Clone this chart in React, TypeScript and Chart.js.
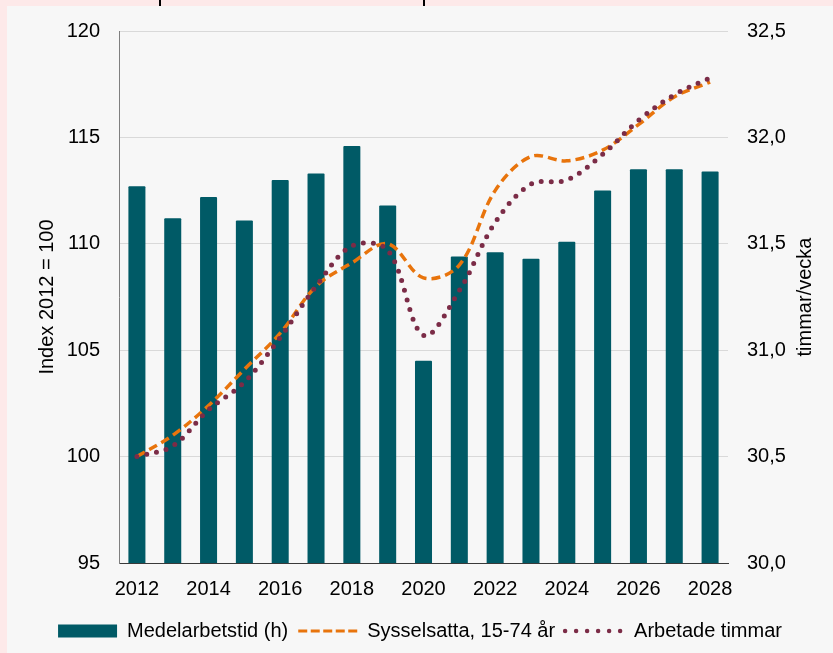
import React, { useEffect, useRef } from "react";
import { Chart, registerables } from "chart.js";

Chart.register(...registerables);

// ---- Data ----
const years = ["2012", "2013", "2014", "2015", "2016", "2017", "2018", "2019", "2020", "2021", "2022", "2023", "2024", "2025", "2026", "2027", "2028"];
const xTickLabels = ["2012", "2014", "2016", "2018", "2020", "2022", "2024", "2026", "2028"];

// Medelarbetstid (h), timmar/vecka (right axis)
const medelarbetstid = [31.77, 31.62, 31.72, 31.61, 31.8, 31.83, 31.96, 31.68, 30.95, 31.44, 31.46, 31.43, 31.51, 31.75, 31.85, 31.85, 31.84];
// Sysselsatta, 15-74 år, Index 2012 = 100 (left axis)
const sysselsatta = [100.0, 101.0, 102.4, 104.1, 105.8, 108.0, 109.1, 110.0, 108.4, 109.0, 112.5, 114.1, 113.9, 114.4, 115.6, 116.9, 117.6];
// Arbetade timmar, Index 2012 = 100 (left axis)
const arbetadeTimmar = [100.0, 100.5, 102.2, 103.5, 105.6, 108.0, 109.9, 109.7, 105.7, 107.8, 111.0, 112.8, 113.0, 114.2, 115.8, 117.0, 117.8];

const leftTicks = { min: 95, max: 120, step: 5 };
const rightTicks = { min: 30, max: 32.5, step: 0.5 };

const TEAL = "#005A66";
const ORANGE = "#E8740C";
const MAROON = "#7B2C47";
const TEXT = "#000000";
const FONT_FAMILY = '"Liberation Sans", Arial, Helvetica, sans-serif';

const rightTitlePlugin = {
  id: "rightTitle",
  afterDraw(chart: any) {
    const ctx = chart.ctx;
    const area = chart.chartArea;
    const scale = chart.scales.y1;
    ctx.save();
    ctx.translate(scale.left + 77, (area.top + area.bottom) / 2);
    ctx.rotate(-Math.PI / 2);
    ctx.font = `20px ${FONT_FAMILY}`;
    ctx.fillStyle = TEXT;
    ctx.textAlign = "center";
    ctx.textBaseline = "middle";
    ctx.fillText("timmar/vecka", 0, 0);
    ctx.restore();
  },
};

export default function App() {
  const canvasRef = useRef<HTMLCanvasElement | null>(null);

  useEffect(() => {
    if (!canvasRef.current) return;
    const font = { family: FONT_FAMILY, size: 20 };
    const chart = new Chart(canvasRef.current, {
      type: "bar",
      data: {
        labels: years,
        datasets: [
          {
            type: "bar",
            label: "Medelarbetstid (h)",
            data: medelarbetstid,
            yAxisID: "y1",
            backgroundColor: TEAL,
            borderWidth: 0,
            borderRadius: 1,
            barPercentage: 0.475,
            categoryPercentage: 1,
            order: 2,
          },
          {
            type: "line",
            label: "Sysselsatta, 15-74 år",
            data: sysselsatta,
            yAxisID: "y",
            borderColor: ORANGE,
            backgroundColor: ORANGE,
            borderWidth: 3.5,
            borderDash: [9, 5],
            pointRadius: 0,
            tension: 0.35,
            fill: false,
            order: 1,
          },
          {
            type: "line",
            label: "Arbetade timmar",
            data: arbetadeTimmar,
            yAxisID: "y",
            borderColor: MAROON,
            backgroundColor: MAROON,
            borderWidth: 5,
            borderDash: [0, 10],
            borderCapStyle: "round",
            pointRadius: 0,
            tension: 0.35,
            fill: false,
            order: 0,
          },
        ] as any,
      },
      options: {
        animation: false,
        responsive: false,
        maintainAspectRatio: false,
        layout: { padding: { top: 25, left: 0, right: 0, bottom: 2 } },
        plugins: {
          tooltip: { enabled: false },
          legend: {
            position: "bottom",
            labels: {
              usePointStyle: true,
              pointStyleWidth: 59,
              boxHeight: 13,
              padding: 10,
              font,
              color: TEXT,
              generateLabels: () => [
                {
                  text: "Medelarbetstid (h)",
                  fillStyle: TEAL,
                  strokeStyle: TEAL,
                  lineWidth: 0,
                  pointStyle: "rect",
                  hidden: false,
                  datasetIndex: 0,
                  fontColor: TEXT,
                },
                {
                  text: "Sysselsatta, 15-74 år",
                  fillStyle: ORANGE,
                  strokeStyle: ORANGE,
                  lineWidth: 3,
                  lineDash: [9, 3.5],
                  pointStyle: "line",
                  hidden: false,
                  datasetIndex: 1,
                  fontColor: TEXT,
                },
                {
                  text: "Arbetade timmar",
                  fillStyle: MAROON,
                  strokeStyle: MAROON,
                  lineWidth: 4.5,
                  lineDash: [0, 11],
                  lineCap: "round",
                  pointStyle: "line",
                  hidden: false,
                  datasetIndex: 2,
                  fontColor: TEXT,
                },
              ] as any,
            },
          },
        },
        scales: {
          x: {
            type: "category",
            offset: true,
            grid: { display: false, drawTicks: false },
            border: { display: true, color: "#3a3a3a", width: 1 },
            ticks: {
              autoSkip: false,
              maxRotation: 0,
              padding: 14,
              font,
              color: TEXT,
              callback: (_v: any, i: number) => (xTickLabels.includes(years[i]) ? years[i] : ""),
            },
            afterFit: (s: any) => {
              s.height = 48;
            },
          },
          y: {
            position: "left",
            min: leftTicks.min,
            max: leftTicks.max,
            ticks: { stepSize: leftTicks.step, padding: 13, font, color: TEXT },
            grid: { color: "#d9d9d9", lineWidth: 1, drawTicks: true, tickLength: 6, tickColor: "rgba(0,0,0,0)" },
            border: { display: true, color: "#7f7f7f", width: 1 },
            title: {
              display: true,
              text: "Index 2012 = 100",
              font,
              color: TEXT,
              padding: { top: 28, bottom: 0 },
            },
            afterFit: (s: any) => {
              s.width = 112;
            },
          },
          y1: {
            position: "right",
            min: rightTicks.min,
            max: rightTicks.max,
            ticks: {
              stepSize: rightTicks.step,
              padding: 13,
              font,
              color: TEXT,
              callback: (v: any) => Number(v).toFixed(1).replace(".", ","),
            },
            grid: { drawOnChartArea: false, drawTicks: true, tickLength: 6, tickColor: "rgba(0,0,0,0)" },
            border: { display: false },
            afterFit: (s: any) => {
              s.width = 105;
            },
          },
        },
      } as any,
      plugins: [rightTitlePlugin],
    });
    return () => chart.destroy();
  }, []);

  return (
    <div style={{ position: "fixed", inset: 0, background: "#FDE9E9" }}>
      <div style={{ position: "absolute", left: 159, top: 0, width: 2, height: 6, background: "#000" }} />
      <div style={{ position: "absolute", left: 423, top: 0, width: 2, height: 6, background: "#000" }} />
      <div
        style={{
          position: "absolute",
          left: 7,
          top: 6,
          width: 826,
          height: 647,
          background: "#F7F7F7",
        }}
      >
        <canvas ref={canvasRef} width={826} height={647} style={{ display: "block" }} />
      </div>
    </div>
  );
}
